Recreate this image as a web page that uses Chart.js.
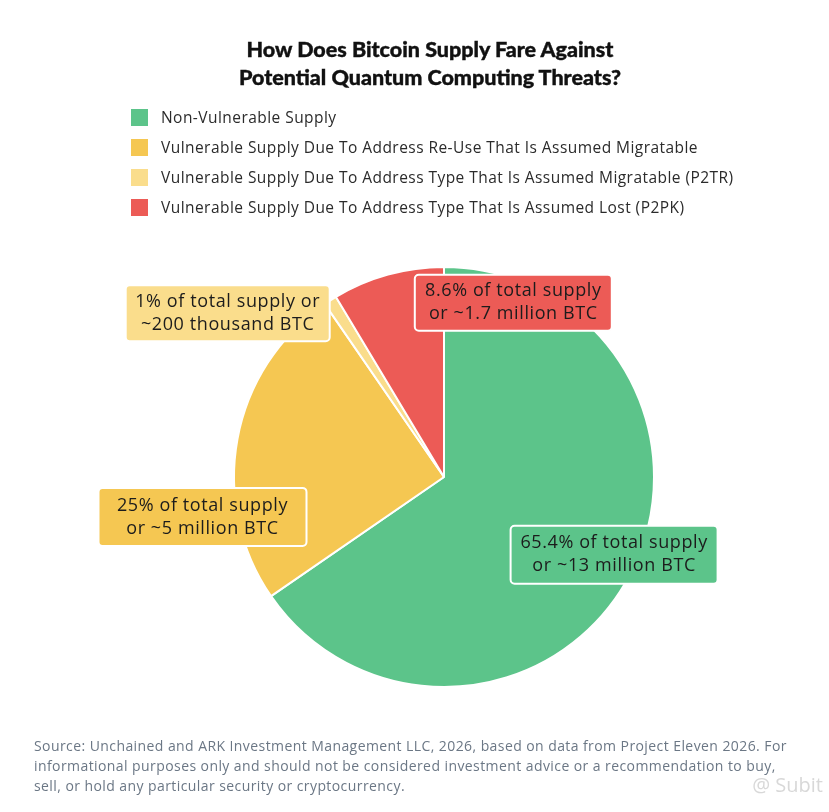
<!DOCTYPE html>
<html>
<head>
<meta charset="utf-8">
<script src="https://cdn.jsdelivr.net/npm/chart.js@4.4.1/dist/chart.umd.min.js"></script>
<style>
  html, body { margin: 0; padding: 0; background: #fff; }
  #wrap { position: relative; width: 829px; height: 812px; overflow: hidden; }
  #pie { position: absolute; left: 0; top: 0; }
  #title {
    position: absolute; left: 0; top: 35px; width: 860px; text-align: center;
    font-family: "Lato", sans-serif; font-weight: 900; font-size: 21.5px; line-height: 28px; color: #111;
    -webkit-text-stroke: 0.4px #111;
  }
  #legend { position: absolute; left: 131px; top: 102px; font-family: "Open Sans", sans-serif; font-size: 15.5px; letter-spacing: 0.45px; color: #2b2b2b; }
  .item { height: 30px; display: flex; align-items: center; white-space: nowrap; }
  .box { width: 17px; height: 17px; margin-right: 13px; }
  #footer {
    position: absolute; left: 34px; top: 736px; white-space: nowrap;
    font-family: "Open Sans", sans-serif; font-size: 14px; letter-spacing: 0.42px; line-height: 20px; color: #6b7785;
  }
  #mark { position: absolute; right: 6px; top: 771px; font-family: "Open Sans", sans-serif; font-size: 20px; color: #d8d8d8; }
</style>
</head>
<body>
<div id="wrap">
  <canvas id="pie" width="829" height="812"></canvas>
  <div id="title">How Does Bitcoin Supply Fare Against<br>Potential Quantum Computing Threats?</div>
  <div id="legend"></div>
  <div id="footer">Source: Unchained and ARK Investment Management LLC, 2026, based on data from Project Eleven 2026. For<br>informational purposes only and should not be considered investment advice or a recommendation to buy,<br>sell, or hold any particular security or cryptocurrency.</div>
  <div id="mark">@ Subit</div>
</div>
<script>
const categories = [
    "Non-Vulnerable Supply",
    "Vulnerable Supply Due To Address Re-Use That Is Assumed Migratable",
    "Vulnerable Supply Due To Address Type That Is Assumed Migratable (P2TR)",
    "Vulnerable Supply Due To Address Type That Is Assumed Lost (P2PK)"
];
const shares = [65.4, 25, 1, 8.6];
const btcAmounts = ["~13 million BTC", "~5 million BTC", "~200 thousand BTC", "~1.7 million BTC"];
const colors = ["#5cc48a", "#f5c752", "#fadd8c", "#ec5b56"];

// label box centres, relative to pie centre, in units of radius
const labelOffsets = [[0.81, 0.37], [-1.15, 0.19], [-1.03, -0.78], [0.33, -0.83]];
const labelMinWidth = [207, 208, 204, 197];
const labelHeight = [58, 58, 55, 55];

function labelLines(i) {
    if (shares[i] < 2) return [shares[i] + "% of total supply or", btcAmounts[i]];
    return [shares[i] + "% of total supply", "or " + btcAmounts[i]];
}

// legend
const legendElem = document.getElementById("legend");
categories.forEach((c, i) => {
    const row = document.createElement("div");
    row.className = "item";
    row.innerHTML = `<span class="box" style="background:${colors[i]}"></span><span>${c}</span>`;
    legendElem.appendChild(row);
});

function roundRect(ctx, x, y, w, h, r) {
    ctx.beginPath();
    ctx.moveTo(x + r, y);
    ctx.arcTo(x + w, y, x + w, y + h, r);
    ctx.arcTo(x + w, y + h, x, y + h, r);
    ctx.arcTo(x, y + h, x, y, r);
    ctx.arcTo(x, y, x + w, y, r);
    ctx.closePath();
}

const boxLabels = {
    id: "boxLabels",
    afterDatasetsDraw(chart) {
        const ctx = chart.ctx;
        const arcs = chart.getDatasetMeta(0).data;
        ctx.save();
        ctx.font = '18px "Open Sans", sans-serif';
        ctx.letterSpacing = "0.6px";
        ctx.textAlign = "center";
        ctx.textBaseline = "middle";
        arcs.forEach((arc, i) => {
            const r = arc.outerRadius;
            const cx = arc.x + labelOffsets[i][0] * r;
            const cy = arc.y + labelOffsets[i][1] * r;
            const lines = labelLines(i);
            const lh = 23;
            const w = Math.max(labelMinWidth[i], ...lines.map(l => ctx.measureText(l).width + 18));
            const h = Math.max(labelHeight[i], lines.length * lh + 10);
            roundRect(ctx, cx - w / 2, cy - h / 2, w, h, 4);
            ctx.fillStyle = colors[i];
            ctx.fill();
            ctx.lineWidth = 2;
            ctx.strokeStyle = "#ffffff";
            ctx.stroke();
            ctx.fillStyle = "#1c1c1c";
            lines.forEach((l, k) => {
                ctx.fillText(l, cx, cy - (lines.length - 1) * lh / 2 + k * lh);
            });
        });
        ctx.restore();
    }
};

const ctx = document.getElementById("pie").getContext("2d");
const chart = new Chart(ctx, {
    type: "pie",
    data: {
        labels: categories,
        datasets: [{
            data: shares,
            backgroundColor: colors,
            borderColor: "#ffffff",
            borderWidth: 2
        }]
    },
    options: {
        responsive: false,
        animation: false,
        layout: { padding: { top: 266, bottom: 124, left: 159, right: 100 } },
        plugins: {
            legend: { display: false },
            tooltip: { enabled: false }
        }
    },
    plugins: [boxLabels]
});
</script>
</body>
</html>
